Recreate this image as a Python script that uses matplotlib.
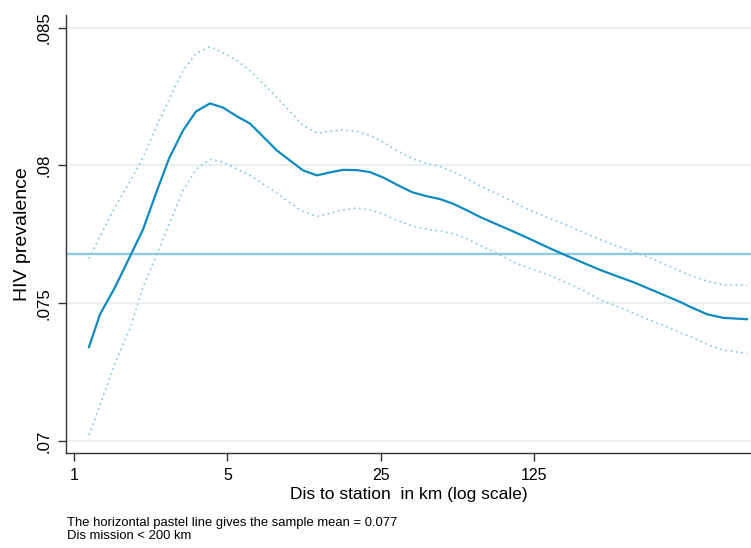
import numpy as np
import matplotlib
matplotlib.use("Agg")
import matplotlib.pyplot as plt
from matplotlib import font_manager

# ---- data ----
dist_km = [1.170, 1.314, 1.538, 1.800, 2.063, 2.364, 2.710, 3.139, 3.597, 4.167,
           4.776, 5.531, 6.340, 7.266, 8.416, 9.646, 11.06, 12.80, 14.68, 16.82,
           19.48, 22.33, 25.86, 29.64, 34.70, 40.62, 46.55, 53.35, 61.80, 70.83,
           84.65, 100.1, 119.7, 147.6, 176.5, 208.7, 249.5, 298.2, 352.7, 421.6,
           503.9, 596.0, 641.5, 766.8, 906.9, 1166.0]

hiv_fit = [0.07341, 0.07460, 0.07558, 0.07670, 0.07768, 0.07899, 0.08025, 0.08127, 0.08196, 0.08225,
           0.08210, 0.08178, 0.08152, 0.08105, 0.08054, 0.08018, 0.07982, 0.07964, 0.07975, 0.07984,
           0.07983, 0.07976, 0.07955, 0.07930, 0.07903, 0.07888, 0.07878, 0.07861, 0.07837, 0.07813,
           0.07786, 0.07761, 0.07733, 0.07699, 0.07672, 0.07647, 0.07621, 0.07598, 0.07577, 0.07551,
           0.07525, 0.07500, 0.07487, 0.07460, 0.07447, 0.07442]

hiv_upper = [0.07662, 0.07743, 0.07849, 0.07942, 0.08029, 0.08138, 0.08239, 0.08344, 0.08406, 0.08431,
             0.08409, 0.08380, 0.08344, 0.08297, 0.08246, 0.08196, 0.08145, 0.08117, 0.08124, 0.08129,
             0.08123, 0.08109, 0.08083, 0.08054, 0.08025, 0.08007, 0.07996, 0.07978, 0.07951, 0.07926,
             0.07897, 0.07868, 0.07837, 0.07807, 0.07783, 0.07757, 0.07731, 0.07707, 0.07686, 0.07665,
             0.07638, 0.07612, 0.07601, 0.07580, 0.07567, 0.07565]

hiv_lower = [0.07022, 0.07130, 0.07283, 0.07408, 0.07558, 0.07670, 0.07786, 0.07909, 0.07986, 0.08022,
             0.08011, 0.07987, 0.07964, 0.07933, 0.07899, 0.07864, 0.07833, 0.07815, 0.07826, 0.07839,
             0.07845, 0.07839, 0.07822, 0.07801, 0.07781, 0.07768, 0.07762, 0.07753, 0.07734, 0.07710,
             0.07681, 0.07650, 0.07626, 0.07601, 0.07574, 0.07547, 0.07513, 0.07489, 0.07465, 0.07438,
             0.07414, 0.07388, 0.07379, 0.07351, 0.07330, 0.07318]

sample_mean = 0.07678

x_ticks = [1, 5, 25, 125]
x_tick_labels = ["1", "5", "25", "125"]
y_ticks = [0.07, 0.075, 0.08, 0.085]
y_tick_labels = [".07", ".075", ".08", ".085"]

x_title = "Dis to station  in km (log scale)"
y_title = "HIV prevalence"
note_lines = ["The horizontal pastel line gives the sample mean = 0.077",
              "Dis mission < 200 km"]

# ---- fonts ----
names = {f.name for f in font_manager.fontManager.ttflist}
base_font = "Liberation Sans"
if "Liberation Sans Narrow" in names:
    narrow_font = "Liberation Sans Narrow"
    xt_size, xlab_size, note_size = 12.2, 13.4, 10.6
else:
    narrow_font = "Liberation Sans"
    xt_size, xlab_size, note_size = 11.5, 12.5, 9.4

plt.rcParams["font.family"] = [base_font, "DejaVu Sans"]

fig = plt.figure(figsize=(7.51, 5.48), dpi=100)
W, H = 751, 548
ax = fig.add_axes([66 / W, 1 - 453 / H, (751 - 66) / W, (453 - 15) / H])

main_col = "#0f8bc2"
ci_col = "#86c6e0"
mean_col = "#8fcbe0"
grid_col = "#eaf0f1"

for yt in y_ticks:
    ax.axhline(yt, color=grid_col, lw=1.6, zorder=0)

ax.axhline(sample_mean, color=mean_col, lw=1.7, zorder=2)
ax.plot(dist_km, hiv_upper, color=ci_col, lw=1.2, ls=(0, (1, 2.2)), zorder=3)
ax.plot(dist_km, hiv_lower, color=ci_col, lw=1.2, ls=(0, (1, 2.2)), zorder=3)
ax.plot(dist_km, hiv_fit, color=main_col, lw=1.6, zorder=4)

ax.set_xscale("log")
ax.set_xlim(0.9195, 1216)
ax.set_ylim(0.069565, 0.08546)

ax.set_xticks(x_ticks)
ax.set_xticklabels(x_tick_labels, fontsize=xt_size, family=[narrow_font, "DejaVu Sans"])
ax.xaxis.set_minor_locator(matplotlib.ticker.NullLocator())
ax.set_yticks(y_ticks)
ax.set_yticklabels(y_tick_labels, fontsize=12.2, rotation=90, va="center")

ax.tick_params(axis="both", direction="out", length=6, width=1, color="#333333")
ax.tick_params(axis="x", pad=4.5)
ax.tick_params(axis="y", pad=4.5)

for s in ["top", "right"]:
    ax.spines[s].set_visible(False)
for s in ["left", "bottom"]:
    ax.spines[s].set_color("#333333")
    ax.spines[s].set_linewidth(1.0)

ax.set_xlabel(x_title, fontsize=xlab_size, family=[narrow_font, "DejaVu Sans"], labelpad=3)
ax.set_ylabel(y_title, fontsize=14, labelpad=4)

fig.text(67 / W, 1 - 526 / H, note_lines[0], fontsize=note_size,
         family=[narrow_font, "DejaVu Sans"], ha="left", va="baseline")
fig.text(67 / W, 1 - 539 / H, note_lines[1], fontsize=note_size,
         family=[narrow_font, "DejaVu Sans"], ha="left", va="baseline")

fig.savefig("out.png", dpi=100, facecolor="white")
